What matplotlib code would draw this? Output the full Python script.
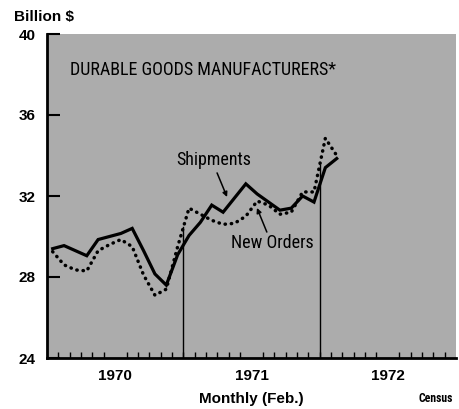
import numpy as np
import matplotlib
matplotlib.use("Agg")
import matplotlib.pyplot as plt
from matplotlib import font_manager as fm

# Monthly data, Jan 1970 .. Feb 1972 (billion $)
shipments = [29.4, 29.55, 29.3, 29.05, 29.85, 30.0, 30.15, 30.4, 29.3, 28.15,
             27.6, 29.1, 30.05, 30.7, 31.55, 31.2, 31.9, 32.6, 32.1, 31.7,
             31.3, 31.4, 32.0, 31.7, 33.4, 33.85]
new_orders = [29.25, 28.6, 28.35, 28.3, 29.3, 29.6, 29.85, 29.5, 28.1, 27.1,
              27.4, 29.5, 31.4, 31.1, 30.8, 30.6, 30.65, 31.0, 31.75, 31.55,
              31.1, 31.2, 32.2, 32.2, 34.85, 34.0]
year_labels = ["1970", "1971", "1972"]
y_ticks = [24, 28, 32, 36, 40]


def have(name):
    try:
        fm.findfont(fm.FontProperties(family=name), fallback_to_default=False)
        return True
    except Exception:
        return False


bold = ["Liberation Sans", "DejaVu Sans"]
narrow_name = None
for cand in ["Liberation Sans Narrow", "DejaVu Sans Condensed", "Roboto Condensed",
             "Open Sans Condensed"]:
    if have(cand):
        narrow_name = cand
        break
if narrow_name is not None:
    narrow = [narrow_name, "DejaVu Sans"]
    nscale = 1.0
else:
    narrow = ["Liberation Sans", "DejaVu Sans"]
    nscale = 0.8

fig = plt.figure(figsize=(4.59, 4.09), dpi=100)
ax = fig.add_axes([47/459, 1-358/409, (456-47)/459, (358-34)/409])
ax.set_facecolor("#acacac")

x = np.arange(len(shipments)) + 0.5
ax.plot(x, shipments, color="black", lw=2.3, solid_joinstyle="miter", zorder=3)
ax.plot(x, new_orders, color="black", lw=2.5, linestyle=(0, (0.1, 1.7)),
        dash_capstyle="round", zorder=3)

# year boundary rules up to the data
for b in [12, 24]:
    top = np.interp(b, x, new_orders)
    ax.plot([b, b], [24, top], color="black", lw=1.0, zorder=2)

ax.set_xlim(0, 36)
ax.set_ylim(24, 40)
ax.set_yticks(y_ticks)
ax.set_yticklabels([str(t) for t in y_ticks], fontfamily=bold,
                   fontweight="bold", fontsize=11)
ax.tick_params(axis="y", direction="in", length=9, width=1.5, pad=8, left=True)

ax.set_xticks([6, 18, 30])
ax.set_xticklabels(year_labels, fontfamily=bold, fontweight="bold", fontsize=11)
ax.tick_params(axis="x", which="major", length=0, pad=8)
ax.set_xticks(np.arange(1, 36), minor=True)
ax.tick_params(axis="x", which="minor", direction="in", length=4, width=1.0)

for s in ["top", "right"]:
    ax.spines[s].set_visible(False)
ax.spines["left"].set_linewidth(2)
ax.spines["bottom"].set_linewidth(2)

ax.text(2.0, 38.2, "DURABLE GOODS MANUFACTURERS*", fontfamily=narrow,
        fontsize=13 * nscale, va="center", ha="left", color="black")

ax.text(14.7, 33.78, "Shipments", fontfamily=narrow, fontsize=13 * nscale,
        ha="center", va="center")
ax.annotate("", xy=(15.85, 31.95), xytext=(14.97, 33.14),
            arrowprops=dict(arrowstyle="-|>", color="black", lw=1.1,
                            mutation_scale=7, shrinkA=0, shrinkB=0))
ax.text(19.8, 29.68, "New Orders", fontfamily=narrow, fontsize=13 * nscale,
        ha="center", va="center")
ax.annotate("", xy=(18.48, 31.41), xytext=(19.35, 30.22),
            arrowprops=dict(arrowstyle="-|>", color="black", lw=1.1,
                            mutation_scale=7, shrinkA=0, shrinkB=0))

fig.text(14/459, 1-17/409, "Billion $", fontfamily=bold, fontweight="bold",
         fontsize=11, ha="left", va="center")
fig.text(251/459, 1-399/409, "Monthly (Feb.)", fontfamily=bold,
         fontweight="bold", fontsize=11, ha="center", va="center")
fig.text(436/459, 1-399/409, "Census", fontfamily=narrow, fontweight="bold",
         fontsize=8.5 * nscale + (0 if nscale == 1 else 0.3), ha="center",
         va="center")

fig.savefig("out.png", dpi=100)
